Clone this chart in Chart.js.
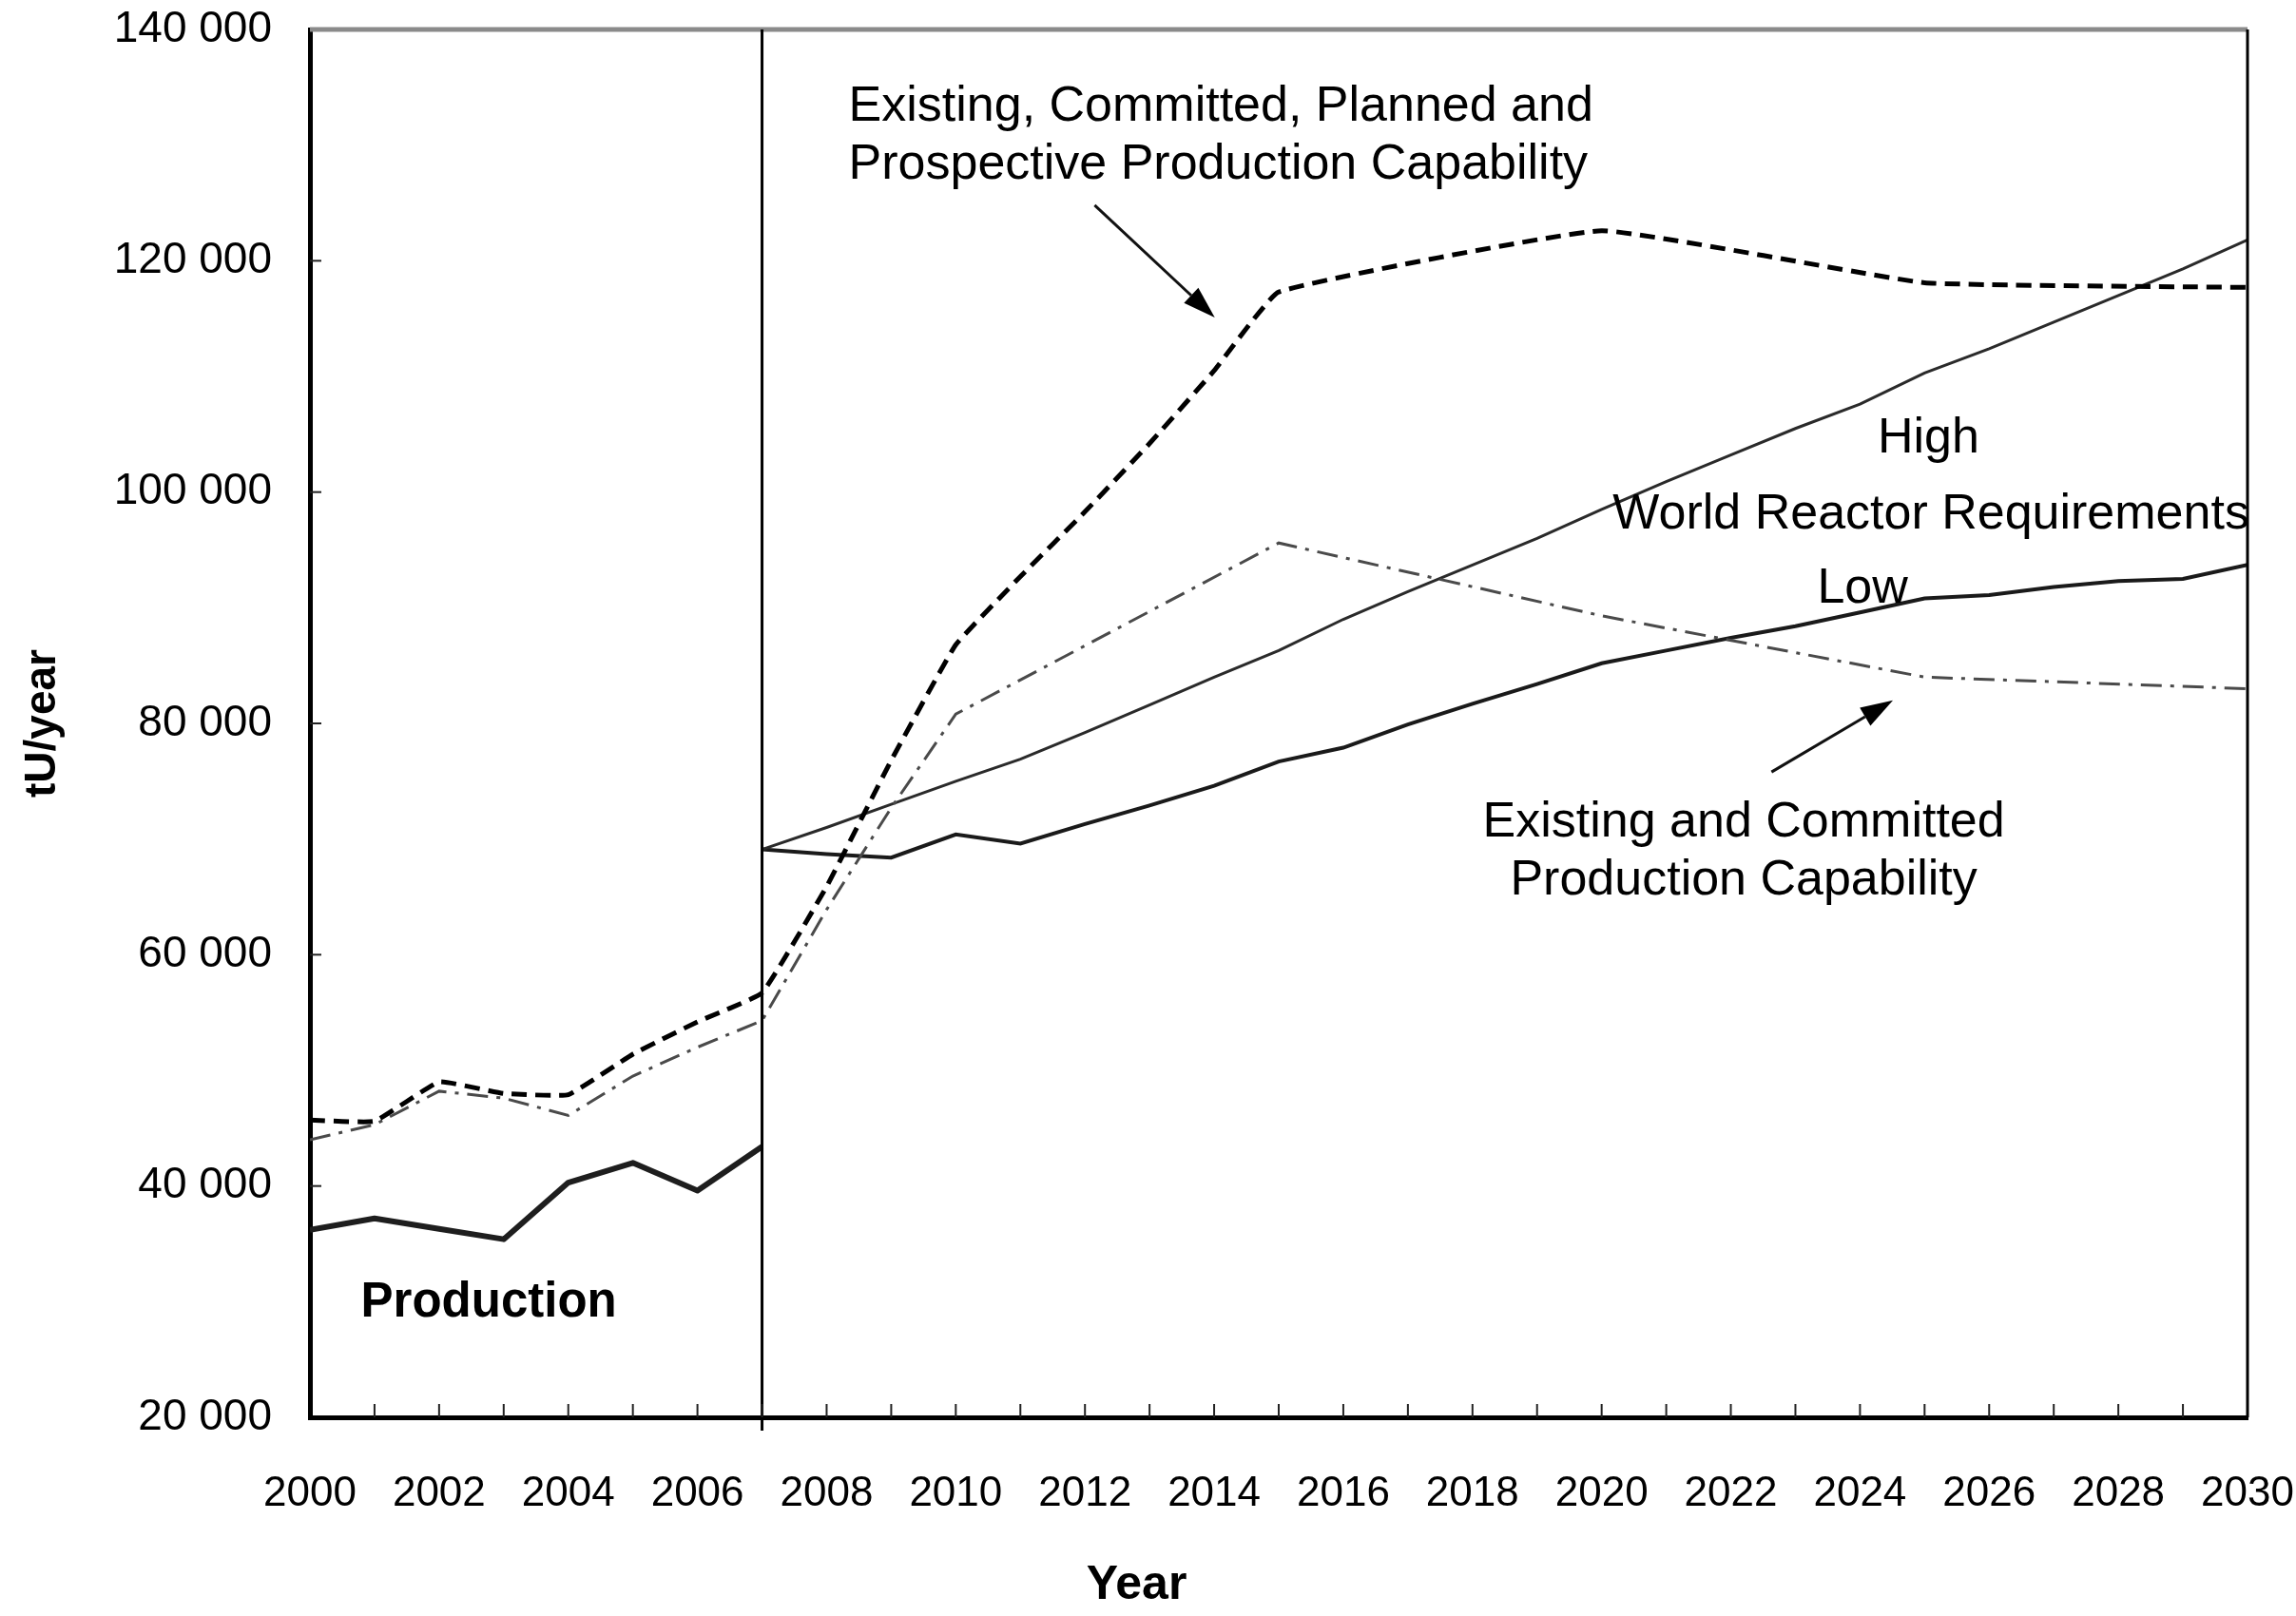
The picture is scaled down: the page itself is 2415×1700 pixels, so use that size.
<!DOCTYPE html>
<html>
<head>
<meta charset="utf-8">
<script src="https://cdn.jsdelivr.net/npm/chart.js@4.4.1/dist/chart.umd.min.js"></script>
<style>
  html, body { margin: 0; padding: 0; background: #fff; }
  #wrap { width: 2415px; height: 1700px; position: relative; }
</style>
</head>
<body>
<div id="wrap"><canvas id="c"></canvas></div>
<script>
// ---- Data ----
const productionYears = [2000, 2001, 2002, 2003, 2004, 2005, 2006, 2007];
const production      = [36200, 37200, 36300, 35400, 40300, 42000, 39600, 43400];

const ecppYears = [2000, 2001, 2002, 2003, 2004, 2005, 2006, 2007, 2008, 2009, 2010, 2011, 2012, 2013, 2014, 2015, 2020, 2025, 2030];
const ecpp      = [45700, 45600, 49000, 48000, 47900, 51400, 54200, 56700, 65900, 76800, 86800, 92700, 98300, 104200, 110500, 117300, 122600, 118100, 117700];

const ecYears = [2000, 2001, 2002, 2003, 2004, 2005, 2006, 2007, 2008, 2009, 2010, 2015, 2020, 2025, 2030];
const ec      = [44000, 45300, 48200, 47600, 46100, 49500, 52000, 54300, 63900, 72700, 80800, 95600, 89300, 84000, 83000];

const reqYears = [2007, 2008, 2009, 2010, 2011, 2012, 2013, 2014, 2015, 2016, 2017, 2018, 2019, 2020, 2021, 2022, 2023, 2024, 2025, 2026, 2027, 2028, 2029, 2030];
const reqHigh  = [69100, 71000, 73000, 75000, 76900, 79200, 81600, 84000, 86300, 89000, 91400, 93700, 96000, 98500, 100900, 103200, 105500, 107600, 110300, 112400, 114700, 117000, 119300, 121800];
const reqLow   = [69100, 68700, 68400, 70400, 69600, 71300, 72900, 74600, 76700, 77900, 79900, 81700, 83400, 85200, 86300, 87400, 88400, 89600, 90800, 91100, 91800, 92300, 92500, 93700];

const xMin = 2000, xMax = 2030, xStep = 1, xLabelEvery = 2;
const yMin = 20000, yMax = 140000, yStep = 20000;
const dividerYear = 2007;

const xTitle = "Year";
const yTitle = "tU/year";

// Annotations anchored in data coordinates [year, tU]
const labels = [
  { text: "Existing, Committed, Planned and", at: [2008.34, 133300], align: "left",   bold: false },
  { text: "Prospective Production Capability", at: [2008.34, 128300], align: "left",   bold: false },
  { text: "High",                              at: [2025.06, 104600], align: "center", bold: false },
  { text: "World Reactor Requirements",        at: [2025.1, 98000],   align: "center", bold: false },
  { text: "Low",                               at: [2024.04, 91650],  align: "center", bold: false },
  { text: "Existing and Committed",            at: [2022.2, 71400],   align: "center", bold: false },
  { text: "Production Capability",             at: [2022.2, 66400],   align: "center", bold: false },
  { text: "Production",                        at: [2002.77, 29900],  align: "center", bold: true }
];
const arrows = [
  { from: [2012.15, 124800], to: [2014.01, 115100] },
  { from: [2022.63, 75800],  to: [2024.51, 82000] }
];
const xTitleAt = 2012.8;

const FONT = '"Liberation Sans", Arial, Helvetica, sans-serif';

function pts(xs, ys) { return xs.map((x, i) => ({ x: x, y: ys[i] })); }

const decorPlugin = {
  id: 'decor',
  afterDatasetsDraw(chart) {
    const { ctx, chartArea: a, scales: { x, y } } = chart;
    ctx.save();
    // top (grey) and right (black) frame
    ctx.lineCap = 'butt';
    ctx.strokeStyle = '#8a8a8a';
    ctx.lineWidth = 5;
    ctx.beginPath(); ctx.moveTo(a.left, a.top); ctx.lineTo(a.right, a.top); ctx.stroke();
    ctx.strokeStyle = '#000';
    ctx.lineWidth = 3;
    ctx.beginPath(); ctx.moveTo(a.right, a.top); ctx.lineTo(a.right, a.bottom); ctx.stroke();

    // divider between history and projection
    const dx = x.getPixelForValue(dividerYear);
    ctx.lineWidth = 3;
    ctx.beginPath(); ctx.moveTo(dx, a.top); ctx.lineTo(dx, a.bottom + 14); ctx.stroke();

    // inward tick marks
    ctx.lineWidth = 2;
    ctx.strokeStyle = '#222';
    x.ticks.forEach(t => {
      if (t.value <= xMin || t.value >= xMax) return;
      const px = x.getPixelForValue(t.value);
      ctx.beginPath(); ctx.moveTo(px, a.bottom); ctx.lineTo(px, a.bottom - 14); ctx.stroke();
    });
    y.ticks.forEach(t => {
      if (t.value <= yMin || t.value >= yMax) return;
      const py = y.getPixelForValue(t.value);
      ctx.beginPath(); ctx.moveTo(a.left, py); ctx.lineTo(a.left + 12, py); ctx.stroke();
    });

    // annotation text
    ctx.fillStyle = '#000';
    ctx.textBaseline = 'middle';
    labels.forEach(l => {
      ctx.font = (l.bold ? 'bold 51px ' : '52px ') + FONT;
      ctx.textAlign = l.align;
      ctx.fillText(l.text, x.getPixelForValue(l.at[0]), y.getPixelForValue(l.at[1]));
    });

    // arrows
    arrows.forEach(ar => {
      const x1 = x.getPixelForValue(ar.from[0]), y1 = y.getPixelForValue(ar.from[1]);
      const x2 = x.getPixelForValue(ar.to[0]),   y2 = y.getPixelForValue(ar.to[1]);
      const ang = Math.atan2(y2 - y1, x2 - x1);
      const hl = 34, hw = 11;
      const bx = x2 - hl * Math.cos(ang), by = y2 - hl * Math.sin(ang);
      ctx.strokeStyle = '#111';
      ctx.lineWidth = 3;
      ctx.beginPath(); ctx.moveTo(x1, y1); ctx.lineTo(bx, by); ctx.stroke();
      ctx.fillStyle = '#000';
      ctx.beginPath();
      ctx.moveTo(x2, y2);
      ctx.lineTo(bx + hw * Math.sin(ang), by - hw * Math.cos(ang));
      ctx.lineTo(bx - hw * Math.sin(ang), by + hw * Math.cos(ang));
      ctx.closePath(); ctx.fill();
    });

    // x axis title
    ctx.font = 'bold 50px ' + FONT;
    ctx.textAlign = 'center';
    ctx.fillStyle = '#000';
    ctx.fillText(xTitle, x.getPixelForValue(xTitleAt), 1668);
    ctx.restore();
  }
};

new Chart(document.getElementById('c'), {
  type: 'line',
  data: {
    datasets: [
      { label: 'Production', data: pts(productionYears, production),
        borderColor: '#1e1e1e', borderWidth: 6, pointRadius: 0, tension: 0, borderJoinStyle: 'round' },
      { label: 'Existing, Committed, Planned and Prospective Production Capability', data: pts(ecppYears, ecpp),
        borderColor: '#000', borderWidth: 5, borderDash: [16, 9], pointRadius: 0, tension: 0.1 },
      { label: 'Existing and Committed Production Capability', data: pts(ecYears, ec),
        borderColor: '#4a4a4a', borderWidth: 3, borderDash: [22, 9, 4, 9], pointRadius: 0, tension: 0 },
      { label: 'World Reactor Requirements - High', data: pts(reqYears, reqHigh),
        borderColor: '#2a2a2a', borderWidth: 3, pointRadius: 0, tension: 0 },
      { label: 'World Reactor Requirements - Low', data: pts(reqYears, reqLow),
        borderColor: '#1a1a1a', borderWidth: 4, pointRadius: 0, tension: 0 }
    ]
  },
  options: {
    responsive: true,
    maintainAspectRatio: false,
    animation: false,
    layout: { padding: { top: 31, right: 51, left: 0, bottom: 0 } },
    plugins: { legend: { display: false }, tooltip: { enabled: false } },
    scales: {
      x: {
        type: 'linear', min: xMin, max: xMax,
        afterFit: s => { s.height = 209; },
        grid: { display: false, drawTicks: true, tickLength: 54 },
        border: { display: true, color: '#000', width: 5 },
        ticks: {
          stepSize: xStep, autoSkip: false, maxRotation: 0, padding: 0,
          color: '#000', font: { family: FONT, size: 44 },
          callback: v => ((v - xMin) % xLabelEvery === 0 ? String(v) : '')
        }
      },
      y: {
        min: yMin, max: yMax,
        afterFit: s => { s.width = 326; },
        grid: { display: false, drawTicks: true, tickLength: 40 },
        border: { display: true, color: '#000', width: 5 },
        ticks: {
          stepSize: yStep, padding: 0, color: '#000', font: { family: FONT, size: 46 },
          callback: v => String(v).replace(/\B(?=(\d{3})+(?!\d))/g, ' ')
        },
        title: { display: true, text: yTitle, color: '#000', padding: { top: 18, bottom: 0 },
                 font: { family: FONT, size: 46, weight: 'bold' } }
      }
    }
  },
  plugins: [decorPlugin]
});
</script>
</body>
</html>
